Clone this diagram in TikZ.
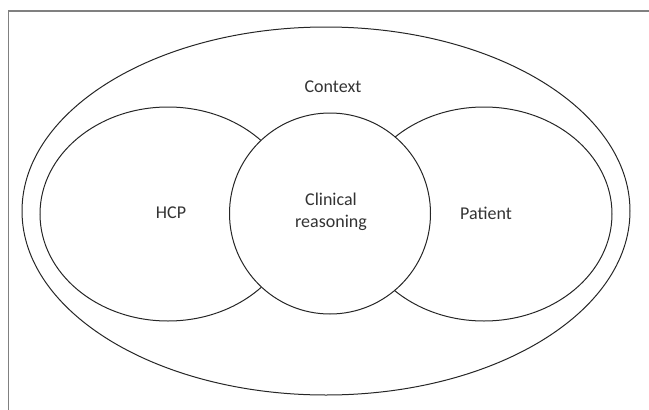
\documentclass[tikz,border=0pt]{standalone}
\usepackage{fontspec}
\setmainfont{Carlito}
\begin{document}
\begin{tikzpicture}[x=1pt,y=-1pt,
  ring/.style={draw=black!85,line width=1pt},
  lbl/.style={font=\fontsize{18}{21.7}\selectfont,text=black!80,align=center}]
\useasboundingbox (0,0) rectangle (649,410);
\draw[draw=black!50,line width=1.2pt] (8.5,410) coordinate (fb) -- (8.5,11) coordinate (fc) -- (649,11) coordinate (fr);
\draw[ring] (326,211) ellipse [x radius=304,y radius=184];
\draw[ring] (168,214) ellipse [x radius=128,y radius=107];
\draw[ring] (484,214) ellipse [x radius=128,y radius=107];
\draw[ring,fill=white] (330,213.5) circle [radius=100.5];
\node[lbl] (ctx) at (333,87) {Context};
\node[lbl] (hcp) at (171,213) {HCP};
\node[lbl] (cr) at (331,212) {Clinical\\reasoning};
\node[lbl] (pat) at (486,213) {Patient};
\end{tikzpicture}
\end{document}
